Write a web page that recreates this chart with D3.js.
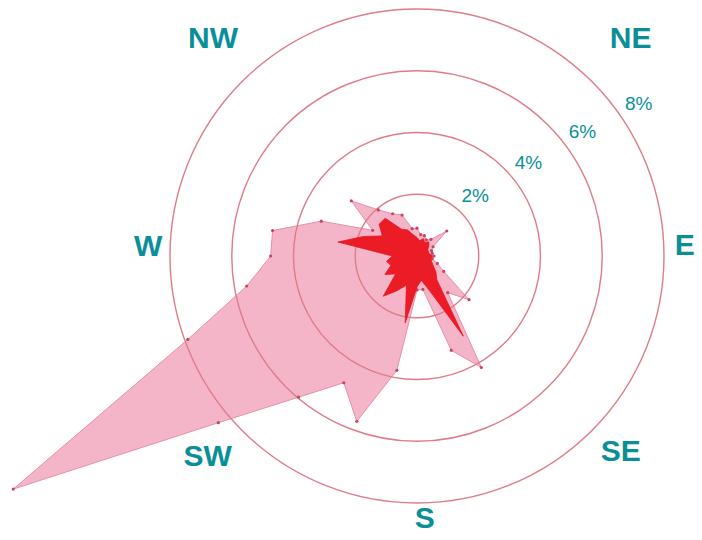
<!DOCTYPE html>
<html><head><meta charset="utf-8">
<script src="https://cdn.jsdelivr.net/npm/d3@7"></script>
<style>html,body{margin:0;padding:0;background:#fff;}svg{display:block;}</style>
</head><body>
<svg id="chart" width="702" height="540"></svg>
<script>
// Wind directions (degrees, compass bearing)
const directions = d3.range(0, 360, 10);
// Frequency (%) of the larger (pink) series
const pinkValues = [0.9,0.7,0.7,0.6,0.7,1.26,0.6,0.5,0.5,0.55,0.5,0.7,1.0,2.2,1.55,4.17,3.25,1.1,
                    1.1,3.76,5.7,4.74,5.97,8.4,15.1,7.9,5.6,4.74,4.75,3.3,1.66,2.78,1.95,1.58,1.41,0.9];
// Frequency (%) of the smaller (red) series
const redValues = [0.6,0.5,0.6,0.5,0.6,0.5,0.4,0.4,0.4,0.5,0.45,0.5,0.6,0.8,1.0,3.0,1.2,0.8,
                   1.0,2.2,1.0,1.3,1.7,0.9,1.2,0.9,1.0,0.8,2.6,1.85,1.3,1.6,1.6,1.0,0.9,0.7];
// Ring values and labels
const ringValues = [2, 4, 6, 8];
const ringLabels = ["2%", "4%", "6%", "8%"];
const ringLabelAngles = [44, 50, 53, 55.5];
// Compass labels
const compassLabels = ["NE", "E", "SE", "S", "SW", "W", "NW"];
const compassAngles = [44.3, 87.6, 133.7, 178.3, 226.4, 272.3, 317];
const compassRadii = [306, 268, 282, 262, 289, 269, 299];

const svg = d3.select("#chart");
const cx = 417, cy = 256;
const r = d3.scaleLinear().domain([0, 8]).range([0, 247]);
const teal = "#0a8f98";
const g = svg.append("g").attr("transform", `translate(${cx},${cy})`);
const toRad = d => d * Math.PI / 180;

const line = d3.lineRadial()
  .angle(d => toRad(d[0]))
  .radius(d => r(d[1]))
  .curve(d3.curveLinearClosed);

const pinkData = directions.map((d, i) => [d, pinkValues[i]]);
const redData = directions.map((d, i) => [d, redValues[i]]);

// pink polygon
g.append("path").datum(pinkData)
  .attr("d", line)
  .attr("fill", "#f5b5c9")
  .attr("stroke", "#e590a8")
  .attr("stroke-width", 1);

// rings
g.selectAll("circle.ring").data(ringValues).join("circle")
  .attr("class", "ring")
  .attr("r", d => r(d))
  .attr("fill", "none")
  .attr("stroke", "#de7c88")
  .attr("stroke-width", 1.4);

// pink vertex dots
g.selectAll("circle.dot").data(pinkData).join("circle")
  .attr("class", "dot")
  .attr("cx", d => r(d[1]) * Math.sin(toRad(d[0])))
  .attr("cy", d => -r(d[1]) * Math.cos(toRad(d[0])))
  .attr("r", 1.6)
  .attr("fill", "#c8455e");

// red polygon
g.append("path").datum(redData)
  .attr("d", line)
  .attr("fill", "#ec1c27")
  .attr("stroke", "#e3141f")
  .attr("stroke-width", 0.8);

// ring labels
g.selectAll("text.ringlab").data(ringValues).join("text")
  .attr("class", "ringlab")
  .attr("x", (d, i) => (r(d) + 22) * Math.sin(toRad(ringLabelAngles[i])))
  .attr("y", (d, i) => -(r(d) + 22) * Math.cos(toRad(ringLabelAngles[i])))
  .attr("text-anchor", "middle")
  .attr("dominant-baseline", "central")
  .attr("font-family", "Liberation Sans, Arial, sans-serif")
  .attr("font-size", 19)
  .attr("fill", teal)
  .text((d, i) => ringLabels[i]);

// compass labels
g.selectAll("text.dir").data(compassLabels).join("text")
  .attr("class", "dir")
  .attr("x", (d, i) => compassRadii[i] * Math.sin(toRad(compassAngles[i])))
  .attr("y", (d, i) => -compassRadii[i] * Math.cos(toRad(compassAngles[i])))
  .attr("text-anchor", "middle")
  .attr("dominant-baseline", "central")
  .attr("font-family", "Liberation Sans, Arial, sans-serif")
  .attr("font-weight", "bold")
  .attr("font-size", 30)
  .attr("fill", teal)
  .text(d => d);
</script>
</body></html>
